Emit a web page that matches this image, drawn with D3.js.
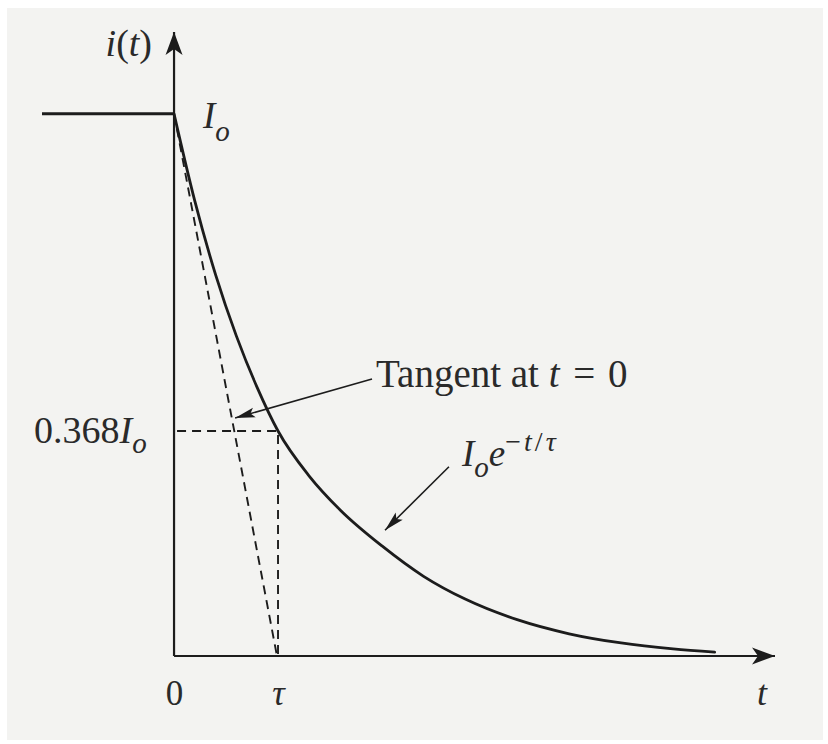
<!DOCTYPE html>
<html lang="en">
<head>
<meta charset="UTF-8">
<title>i(t) decay with tangent at t = 0</title>
<script src="https://cdnjs.cloudflare.com/ajax/libs/d3/7.8.5/d3.min.js"></script>
<style>
    html, body { margin: 0; padding: 0; background: #ffffff; }
    svg { display: block; }
    text { font-family: "Liberation Serif", "DejaVu Serif", serif; fill: #2a2a2a; white-space: pre; }
</style>
</head>
<body>
<svg id="chart"></svg>
<script>
// t in units of tau, i in units of Io
const curveT = [0, 0.2, 0.4, 0.6, 0.8, 1.0, 1.3, 1.6, 2.0, 2.4, 2.8, 3.3, 3.8, 4.3, 4.8, 5.2];
const curveI = [1, 0.839, 0.703, 0.590, 0.495, 0.415, 0.332, 0.269, 0.203, 0.147, 0.105, 0.067, 0.041, 0.024, 0.013, 0.007];

const stepT = [-1.27, 0];
const stepI = [1, 1];

const tangentT = [0, 0.99];
const tangentI = [1, 0];

const markT = 1.0;     // t = tau
const markI = 0.415;   // level drawn for 0.368 Io

const xTickValues = [0, 1];
const xTickLabels = ["0", "τ"];

const W = 828, H = 744;

const svg = d3.select("#chart").attr("width", W).attr("height", H);

// scanned paper
svg.append("rect").attr("width", W).attr("height", H).attr("fill", "#ffffff");
svg.append("rect").attr("x", 7).attr("y", 8).attr("width", W - 12).attr("height", H - 12).attr("fill", "#f3f3f1");

const x = d3.scaleLinear().domain([-1.27, 5.78]).range([42, 775]);
const y = d3.scaleLinear().domain([0, 1.151]).range([656, 32]);

const ink = "#1c1c1c";

const defs = svg.append("defs");
defs.append("marker")
    .attr("id", "bigArrow")
    .attr("markerUnits", "userSpaceOnUse")
    .attr("viewBox", "-24 -10 26 20")
    .attr("refX", 0).attr("refY", 0)
    .attr("markerWidth", 26).attr("markerHeight", 20)
    .attr("orient", "auto")
    .append("path")
    .attr("d", "M0,0 L-23,-8.5 L-17,0 L-23,8.5 Z")
    .attr("fill", ink);
defs.append("marker")
    .attr("id", "smallArrow")
    .attr("markerUnits", "userSpaceOnUse")
    .attr("viewBox", "-22 -7 24 14")
    .attr("refX", 0).attr("refY", 0)
    .attr("markerWidth", 24).attr("markerHeight", 14)
    .attr("orient", "auto")
    .append("path")
    .attr("d", "M0,0 L-20,-5 L-16,0 L-20,5 Z")
    .attr("fill", ink);

// axes
svg.append("line")
    .attr("x1", x(0)).attr("y1", y(0)).attr("x2", x(5.78)).attr("y2", y(0))
    .attr("stroke", ink).attr("stroke-width", 2.2)
    .attr("marker-end", "url(#bigArrow)");
svg.append("line")
    .attr("x1", x(0)).attr("y1", y(0)).attr("x2", x(0)).attr("y2", y(1.151))
    .attr("stroke", ink).attr("stroke-width", 2.2)
    .attr("marker-end", "url(#bigArrow)");

const xAxis = svg.append("g")
    .attr("transform", `translate(0,${y(0)})`)
    .call(d3.axisBottom(x).tickValues(xTickValues).tickFormat((d, i) => xTickLabels[i]).tickSize(0).tickPadding(24));
xAxis.select(".domain").remove();
xAxis.selectAll("text")
    .attr("fill", "#2a2a2a")
    .style("font-family", "'Liberation Serif', serif")
    .style("font-size", "35px")
    .style("font-style", (d, i) => i === 1 ? "italic" : "normal");

// dashed guides
const dash = "9,6";
svg.append("path")
    .attr("d", d3.line()([[x(0) + 3, y(markI)], [x(markT), y(markI)], [x(markT), y(0)]]))
    .attr("fill", "none").attr("stroke", ink).attr("stroke-width", 1.9).attr("stroke-dasharray", dash);
svg.append("path")
    .attr("d", d3.line().x(d => x(d)).y((d, i) => y(tangentI[i]))(tangentT))
    .attr("fill", "none").attr("stroke", ink).attr("stroke-width", 1.9).attr("stroke-dasharray", dash);

// step before t = 0
svg.append("path")
    .attr("d", d3.line().x(d => x(d)).y((d, i) => y(stepI[i]))(stepT))
    .attr("fill", "none").attr("stroke", ink).attr("stroke-width", 3);

// decay curve
svg.append("path")
    .attr("d", d3.line().x(d => x(d)).y((d, i) => y(curveI[i])).curve(d3.curveMonotoneX)(curveT))
    .attr("fill", "none").attr("stroke", ink).attr("stroke-width", 2.8).attr("stroke-linecap", "round");

// annotation arrows
svg.append("line")
    .attr("x1", x(1.904)).attr("y1", y(0.511)).attr("x2", x(0.587)).attr("y2", y(0.439))
    .attr("stroke", ink).attr("stroke-width", 1.6).attr("marker-end", "url(#smallArrow)");
svg.append("line")
    .attr("x1", x(2.644)).attr("y1", y(0.349)).attr("x2", x(2.029)).attr("y2", y(0.232))
    .attr("stroke", ink).attr("stroke-width", 1.6).attr("marker-end", "url(#smallArrow)");

// labels
const yLab = svg.append("text").attr("x", 152).attr("y", 56).attr("text-anchor", "end").style("font-size", "38px");
yLab.append("tspan").style("font-style", "italic").text("i");
yLab.append("tspan").text("(");
yLab.append("tspan").style("font-style", "italic").text("t");
yLab.append("tspan").text(")");

const io = svg.append("text").attr("x", 203).attr("y", 128).style("font-size", "37px").style("font-style", "italic");
io.append("tspan").text("I");
io.append("tspan").attr("dy", 13).style("font-size", "29px").text("o");

const lvl = svg.append("text").attr("x", 34).attr("y", 443).style("font-size", "38px");
lvl.append("tspan").text("0.368");
lvl.append("tspan").style("font-style", "italic").text("I");
lvl.append("tspan").attr("dy", 10).style("font-style", "italic").style("font-size", "29px").text("o");

const tg = svg.append("text").attr("x", 376).attr("y", 387).style("font-size", "39px");
tg.append("tspan").text("Tangent at ");
tg.append("tspan").style("font-style", "italic").text("t");
tg.append("tspan").attr("dx", 4).text(" = ");
tg.append("tspan").attr("dx", 3).text("0");

const ex = svg.append("text").attr("x", 462).attr("y", 466).style("font-size", "37px").style("font-style", "italic");
ex.append("tspan").text("I");
ex.append("tspan").attr("dy", 11).style("font-size", "29px").text("o");
ex.append("tspan").attr("dy", -11).text("e");
const sup = ex.append("tspan").attr("dy", -15).style("font-size", "28px").style("letter-spacing", "3px");
sup.append("tspan").style("font-style", "normal").text("−");
sup.append("tspan").text("t");
sup.append("tspan").style("font-style", "normal").text("/");
sup.append("tspan").text("τ");

svg.append("text").attr("x", 762).attr("y", 705).attr("text-anchor", "middle")
    .style("font-size", "36px").style("font-style", "italic").text("t");
</script>
</body>
</html>
